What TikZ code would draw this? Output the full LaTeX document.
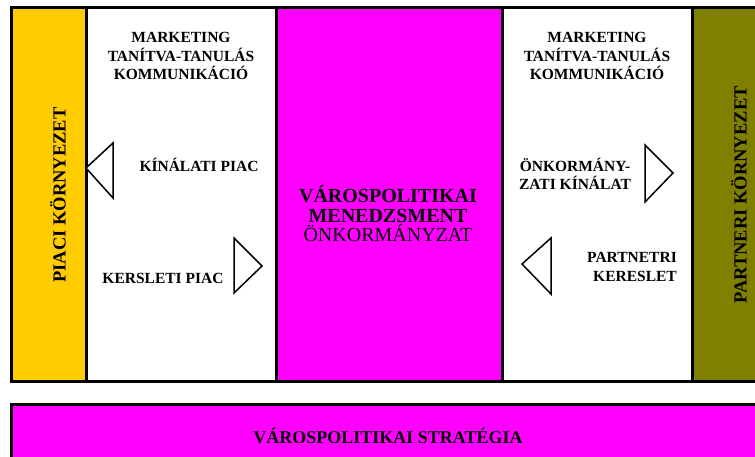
\documentclass[tikz,border=0pt]{standalone}
\usepackage{fontspec}
\setmainfont{Liberation Serif}
\usetikzlibrary{positioning}

\definecolor{piac}{HTML}{FFCC00}
\definecolor{varos}{HTML}{FF00FF}
\definecolor{partner}{HTML}{808000}

\begin{document}
\begin{tikzpicture}[x=1pt,y=-1pt,
	col/.style={draw,rectangle,line width=3pt,inner sep=0pt,outer sep=0pt},
	small/.style={font=\fontsize{15.5}{18.5}\selectfont\bfseries,align=center,inner sep=0pt},
	side/.style={font=\fontsize{18.5}{20}\selectfont\bfseries,rotate=90,inner sep=0pt},
	big/.style={font=\fontsize{20}{19.5}\selectfont,align=center,inner sep=0pt},
	tri/.style={line width=1.5pt,line join=miter}]
\clip (0,0) rectangle (755,457);
% upper frame
\node[col,fill=piac,minimum width=75pt,minimum height=373pt] (piac) at (48.5,194.5) {};
\node[col,fill=white,minimum width=190pt,minimum height=373pt] (bal) at (181,194.5) {};
\node[col,fill=varos,minimum width=226pt,minimum height=373pt] (kozep) at (389,194.5) {};
\node[col,fill=white,minimum width=190pt,minimum height=373pt] (jobb) at (597,194.5) {};
\node[col,fill=partner,minimum width=110pt,minimum height=373pt] (partner) at (747,194.5) {};
% lower box
\node[col,fill=varos,minimum width=800pt,minimum height=80pt] (strat) at (411,444) {};

\node[side] (piacT) at (58,195) {PIACI KÖRNYEZET};
\node[side] (partnerT) at (739,195) {PARTNERI KÖRNYEZET};

\node[small] (mbal) at (181,56) {MARKETING\\TANÍTVA-TANULÁS\\KOMMUNIKÁCIÓ};
\node[small] (mjobb) at (597,56) {MARKETING\\TANÍTVA-TANULÁS\\KOMMUNIKÁCIÓ};

\node[small,anchor=base] (kinal) at (199,172) {KÍNÁLATI PIAC};
\node[small,anchor=base] (kereslet) at (163,283) {KERSLETI PIAC};
\node[small] (onk) at (575,174) {ÖNKORMÁNY-\\ZATI KÍNÁLAT};
\node[small,align=right,anchor=east] (partker) at (677,267) {PARTNETRI\\KERESLET};

\node[big] (menedzs) at (388,214) {\bfseries VÁROSPOLITIKAI\\\bfseries MENEDZSMENT\\ÖNKORMÁNYZAT};
\node[font=\fontsize{18}{20}\selectfont\bfseries,anchor=base,inner sep=0pt] (stratT) at (388,443) {VÁROSPOLITIKAI STRATÉGIA};

% triangles
\draw[tri,fill=white] (86,168) -- (113,143) -- (113,198) -- cycle;
\draw[tri,fill=white] (262,266) -- (234,238) -- (234,293) -- cycle;
\draw[tri,fill=white] (673,173) -- (645,145) -- (645,202) -- cycle;
\draw[tri,fill=white] (522,264) -- (551,238) -- (551,294) -- cycle;
\end{tikzpicture}
\end{document}
